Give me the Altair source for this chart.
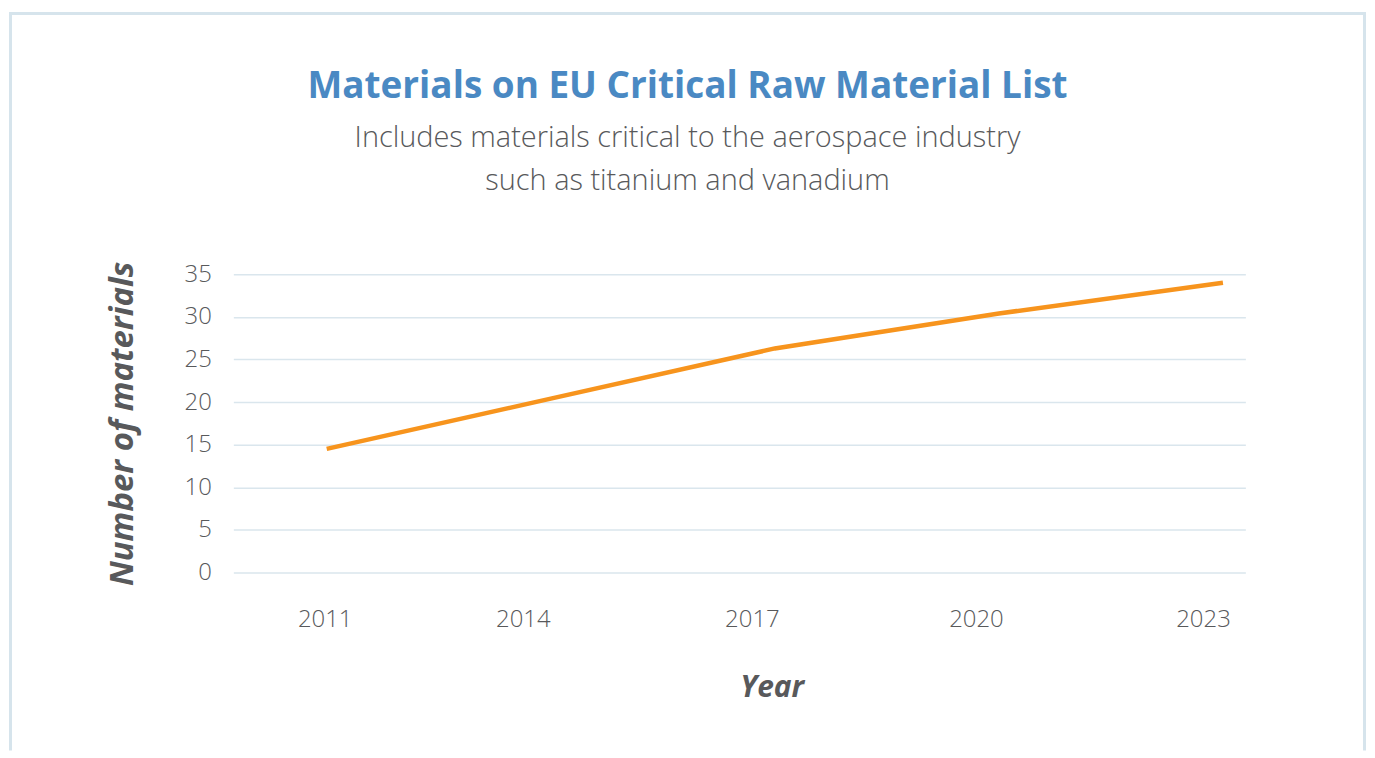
import altair as alt
import pandas as pd

# ---- data ----
years = [2011, 2014, 2017, 2020, 2023]
materials = [14.5, 20.4, 26.3, 30.4, 34.0]
y_ticks = [0, 5, 10, 15, 20, 25, 30, 35]
title_text = "Materials on EU Critical Raw Material List"
subtitle_lines = ["Includes materials critical to the aerospace industry",
                  "such as titanium and vanadium"]

df = pd.DataFrame({"Year": years, "Materials": materials})
one = pd.DataFrame({"k": [0]})

FONT = "Open Sans"
GRAY = "#58595b"
BORDER = "#d6e4ec"
W, H = 1015, 299

line = alt.Chart(df).mark_line(color="#f7941d", strokeWidth=4.5, strokeCap="butt").encode(
    x=alt.X("Year:Q",
            scale=alt.Scale(domain=[2009.75, 2023.3], nice=False, zero=False),
            axis=alt.Axis(values=years, format="d", title="Year", grid=False, domain=False,
                          ticks=False, labelFont=FONT, labelFontSize=24, labelFontWeight=300,
                          labelColor=GRAY, labelPadding=35,
                          labelOffset={"condition": [
                              {"test": "datum.value == 2011", "value": -2},
                              {"test": "datum.value == 2014", "value": -28},
                              {"test": "datum.value == 2023", "value": -20}],
                              "value": -23},
                          titleFont=FONT, titleFontSize=30, titleFontStyle="italic",
                          titleFontWeight="bold", titleColor=GRAY, titlePadding=41,
                          titleX=540, titleAlign="center")),
    y=alt.Y("Materials:Q",
            scale=alt.Scale(domain=[0, 35], nice=False),
            axis=alt.Axis(values=y_ticks, title="Number of materials", grid=True,
                          gridColor="#dae6ed", gridWidth=1.5, domain=False, ticks=False,
                          labelFont=FONT, labelFontSize=24, labelFontWeight=300,
                          labelColor=GRAY, labelPadding=22,
                          titleFont=FONT, titleFontSize=33, titleFontStyle="italic",
                          titleFontWeight="bold", titleColor=GRAY, titlePadding=45)),
)

def rule(x, x2, y, y2):
    return alt.Chart(one).mark_rule(color=BORDER, strokeWidth=3, strokeCap="square").encode(
        x=alt.value(x), x2=alt.value(x2), y=alt.value(y), y2=alt.value(y2))

border = rule(-223.5, 1134.5, -261.5, -261.5) + rule(-223.5, -223.5, -261.5, 476) + \
    rule(1134.5, 1134.5, -261.5, 476)

title = alt.Chart(one).mark_text(font=FONT, fontSize=37, fontWeight="bold", color="#4a89c3",
                                 align="center", baseline="alphabetic").encode(
    x=alt.value(455.5), y=alt.value(-177), text=alt.value(title_text))

sub1 = alt.Chart(one).mark_text(font=FONT, fontSize=29, fontWeight=300, color=GRAY,
                                align="center", baseline="alphabetic").encode(
    x=alt.value(455.5), y=alt.value(-128), text=alt.value(subtitle_lines[0]))
sub2 = alt.Chart(one).mark_text(font=FONT, fontSize=29, fontWeight=300, color=GRAY,
                                align="center", baseline="alphabetic").encode(
    x=alt.value(455.5), y=alt.value(-85), text=alt.value(subtitle_lines[1]))

chart = alt.layer(border, title, sub1, sub2, line).properties(
    width=W, height=H,
    padding={"left": 0, "top": 2, "right": 0, "bottom": 0},
    background="white",
).configure_view(strokeWidth=0)

chart.save("out.html", embed_options={"renderer": "svg", "actions": False})
